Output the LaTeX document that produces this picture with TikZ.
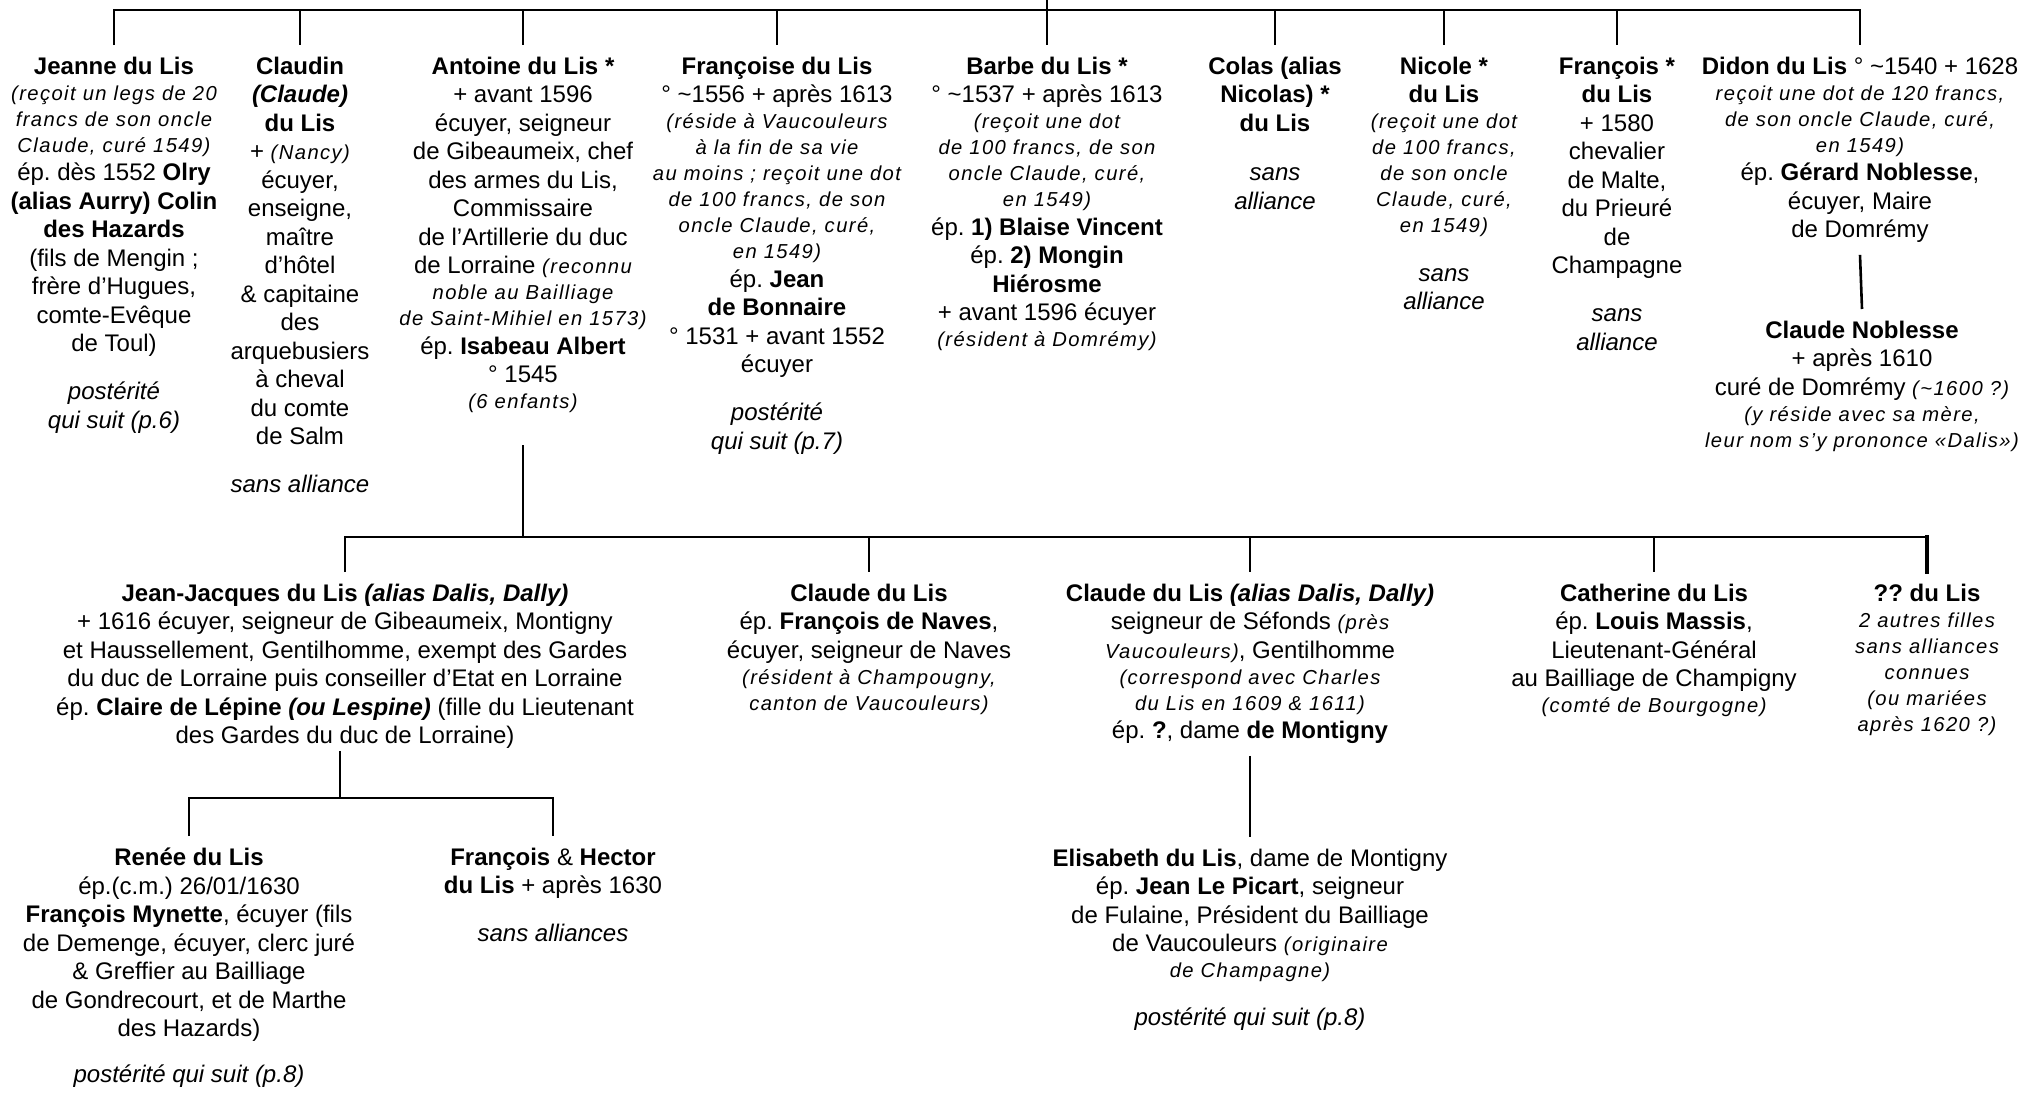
\documentclass[tikz,border=0pt]{standalone}
\usepackage{fontspec}
\setmainfont{Liberation Sans}
\newfontfamily\notefont[LetterSpace=7]{Liberation Sans}
\newcommand\nt[1]{{\notefont\itshape\fontsize{10.1}{12.75}\selectfont #1}}
\frenchspacing

\begin{document}
\begin{tikzpicture}[
  x=0.5pt, y=-0.5pt,
  person/.style={anchor=north, align=center, inner sep=0pt, outer xsep=0pt, outer ysep=6pt, font=\fontsize{12}{14.25}\selectfont},
  link/.style={line width=1.3pt},
]
  \useasboundingbox (0,0) rectangle (2025,1093);

  % First generation
  \node[person] (jeanne) at (114,45) {\textbf{Jeanne du Lis}\\[-1.25pt]
    \nt{(reçoit un legs de 20}\\[-1.25pt]
    \nt{francs de son oncle}\\[-1.25pt]
    \nt{Claude, curé 1549)}\\
    ép. dès 1552 \textbf{Olry}\\
    \textbf{(alias Aurry) Colin}\\
    \textbf{des Hazards}\\
    (fils de Mengin ;\\
    frère d’Hugues,\\
    comte-Evêque\\
    de Toul)\\[9.75pt]
    \textit{postérité}\\
    \textit{qui suit (p.6)}};
  \node[person] (claudin) at (300,45) {\textbf{Claudin}\\
    \textbf{\textit{(Claude)}}\\
    \textbf{du Lis}\\
    + \nt{(Nancy)}\\
    écuyer,\\
    enseigne,\\
    maître\\
    d’hôtel\\
    \& capitaine\\
    des\\
    arquebusiers\\
    à cheval\\
    du comte\\
    de Salm\\[9.75pt]
    \textit{sans alliance}};
  \node[person] (antoine) at (523,45) {\textbf{Antoine du Lis *}\\
    + avant 1596\\
    écuyer, seigneur\\
    de Gibeaumeix, chef\\
    des armes du Lis,\\
    Commissaire\\
    de l’Artillerie du duc\\
    de Lorraine \nt{(reconnu}\\[-1.25pt]
    \nt{noble au Bailliage}\\[-1.25pt]
    \nt{de Saint-Mihiel en 1573)}\\
    ép. \textbf{Isabeau Albert}\\
    ° 1545\\[-1.25pt]
    \nt{(6 enfants)}};
  \node[person] (francoise) at (777,45) {\textbf{Françoise du Lis}\\
    ° \textasciitilde1556 + après 1613\\[-1.25pt]
    \nt{(réside à Vaucouleurs}\\[-1.25pt]
    \nt{à la fin de sa vie}\\[-1.25pt]
    \nt{au moins ; reçoit une dot}\\[-1.25pt]
    \nt{de 100 francs, de son}\\[-1.25pt]
    \nt{oncle Claude, curé,}\\[-1.25pt]
    \nt{en 1549)}\\
    ép. \textbf{Jean}\\
    \textbf{de Bonnaire}\\
    ° 1531 + avant 1552\\
    écuyer\\[9.75pt]
    \textit{postérité}\\
    \textit{qui suit (p.7)}};
  \node[person] (barbe) at (1047,45) {\textbf{Barbe du Lis *}\\
    ° \textasciitilde1537 + après 1613\\[-1.25pt]
    \nt{(reçoit une dot}\\[-1.25pt]
    \nt{de 100 francs, de son}\\[-1.25pt]
    \nt{oncle Claude, curé,}\\[-1.25pt]
    \nt{en 1549)}\\
    ép. \textbf{1) Blaise Vincent}\\
    ép. \textbf{2) Mongin}\\
    \textbf{Hiérosme}\\
    + avant 1596 écuyer\\[-1.25pt]
    \nt{(résident à Domrémy)}};
  \node[person] (colas) at (1275,45) {\textbf{Colas (alias}\\
    \textbf{Nicolas) *}\\
    \textbf{du Lis}\\[10.5pt]
    \textit{sans}\\
    \textit{alliance}};
  \node[person] (nicole) at (1444,45) {\textbf{Nicole *}\\
    \textbf{du Lis}\\[-1.25pt]
    \nt{(reçoit une dot}\\[-1.25pt]
    \nt{de 100 francs,}\\[-1.25pt]
    \nt{de son oncle}\\[-1.25pt]
    \nt{Claude, curé,}\\[-1.25pt]
    \nt{en 1549)}\\[10pt]
    \textit{sans}\\
    \textit{alliance}};
  \node[person] (francois) at (1617,45) {\textbf{François *}\\
    \textbf{du Lis}\\
    + 1580\\
    chevalier\\
    de Malte,\\
    du Prieuré\\
    de\\
    Champagne\\[9.75pt]
    \textit{sans}\\
    \textit{alliance}};
  \node[person] (didon) at (1860,45) {\textbf{Didon du Lis} ° \textasciitilde1540 + 1628\\[-1.25pt]
    \nt{reçoit une dot de 120 francs,}\\[-1.25pt]
    \nt{de son oncle Claude, curé,}\\[-1.25pt]
    \nt{en 1549)}\\
    ép. \textbf{Gérard Noblesse},\\
    écuyer, Maire\\
    de Domrémy};
  \node[person] (noblesse) at (1862,309) {\textbf{Claude Noblesse}\\
    + après 1610\\
    curé de Domrémy \nt{(\textasciitilde1600 ?)}\\[-1.25pt]
    \nt{(y réside avec sa mère,}\\[-1.25pt]
    \nt{leur nom s’y prononce «Dalis»)}};

  % Children of Antoine
  \node[person] (jeanjacques) at (345,572) {\textbf{Jean-Jacques du Lis \textit{(alias Dalis, Dally)}}\\
    + 1616 écuyer, seigneur de Gibeaumeix, Montigny\\
    et Haussellement, Gentilhomme, exempt des Gardes\\
    du duc de Lorraine puis conseiller d’Etat en Lorraine\\
    ép. \textbf{Claire de Lépine \textit{(ou Lespine)}} (fille du Lieutenant\\
    des Gardes du duc de Lorraine)};
  \node[person] (naves) at (869,572) {\textbf{Claude du Lis}\\
    ép. \textbf{François de Naves},\\
    écuyer, seigneur de Naves\\[-1.25pt]
    \nt{(résident à Champougny,}\\[-1.25pt]
    \nt{canton de Vaucouleurs)}};
  \node[person] (montigny) at (1250,572) {\textbf{Claude du Lis \textit{(alias Dalis, Dally)}}\\
    seigneur de Séfonds \nt{(près}\\
    \nt{Vaucouleurs)}, Gentilhomme\\[-1.25pt]
    \nt{(correspond avec Charles}\\[-1.25pt]
    \nt{du Lis en 1609 \& 1611)}\\
    ép. \textbf{?}, dame \textbf{de Montigny}};
  \node[person] (catherine) at (1654,572) {\textbf{Catherine du Lis}\\
    ép. \textbf{Louis Massis},\\
    Lieutenant-Général\\
    au Bailliage de Champigny\\[-1.25pt]
    \nt{(comté de Bourgogne)}};
  \node[person] (filles) at (1927,572) {\textbf{?? du Lis}\\[-1.25pt]
    \nt{2 autres filles}\\[-1.25pt]
    \nt{sans alliances}\\[-1.25pt]
    \nt{connues}\\[-1.25pt]
    \nt{(ou mariées}\\[-1.25pt]
    \nt{après 1620 ?)}};

  % Grandchildren
  \node[person] (renee) at (189,836) {\textbf{Renée du Lis}\\
    ép.(c.m.) 26/01/1630\\
    \textbf{François Mynette}, écuyer (fils\\
    de Demenge, écuyer, clerc juré\\
    \& Greffier au Bailliage\\
    de Gondrecourt, et de Marthe\\
    des Hazards)\\[8.75pt]
    \textit{postérité qui suit (p.8)}};
  \node[person] (hector) at (553,836) {\textbf{François} \& \textbf{Hector}\\
    \textbf{du Lis} + après 1630\\[9.5pt]
    \textit{sans alliances}};
  \node[person] (elisabeth) at (1250,837) {\textbf{Elisabeth du Lis}, dame de Montigny\\
    ép. \textbf{Jean Le Picart}, seigneur\\
    de Fulaine, Président du Bailliage\\
    de Vaucouleurs \nt{(originaire}\\[-1.25pt]
    \nt{de Champagne)}\\[9.75pt]
    \textit{postérité qui suit (p.8)}};

  % Links
  \coordinate (root) at (1047,0);
  \coordinate (j1) at (1047,10);
  \coordinate (j2) at (523,537);
  \coordinate (j3) at (340,798);

  \draw[link] (root) -- (j1);
  \draw[link] (jeanne.north) -- (jeanne.north |- j1) -- (didon.north |- j1) -- (didon.north);
  \foreach \p in {claudin,antoine,francoise,barbe,colas,nicole,francois}
    \draw[link] (\p.north |- j1) -- (\p.north);
  \draw[link] (didon.south) -- (noblesse.north);

  \draw[link] ([yshift=-10pt]antoine.south) -- (j2);
  \draw[link] (jeanjacques.north) -- (jeanjacques.north |- j2) -- (filles.north |- j2);
  \foreach \c in {naves,montigny,catherine}
    \draw[link] (\c.north |- j2) -- (\c.north);
  \draw[link, line width=2pt, line cap=rect] (filles.north |- j2) -- (filles.north);
  \draw[link] (montigny.south) -- (elisabeth.north);

  \draw[link] ([yshift=5pt]jeanjacques.south -| j3) -- (j3);
  \draw[link] (renee.north) -- (renee.north |- j3) -- (hector.north |- j3) -- (hector.north);
\end{tikzpicture}
\end{document}
